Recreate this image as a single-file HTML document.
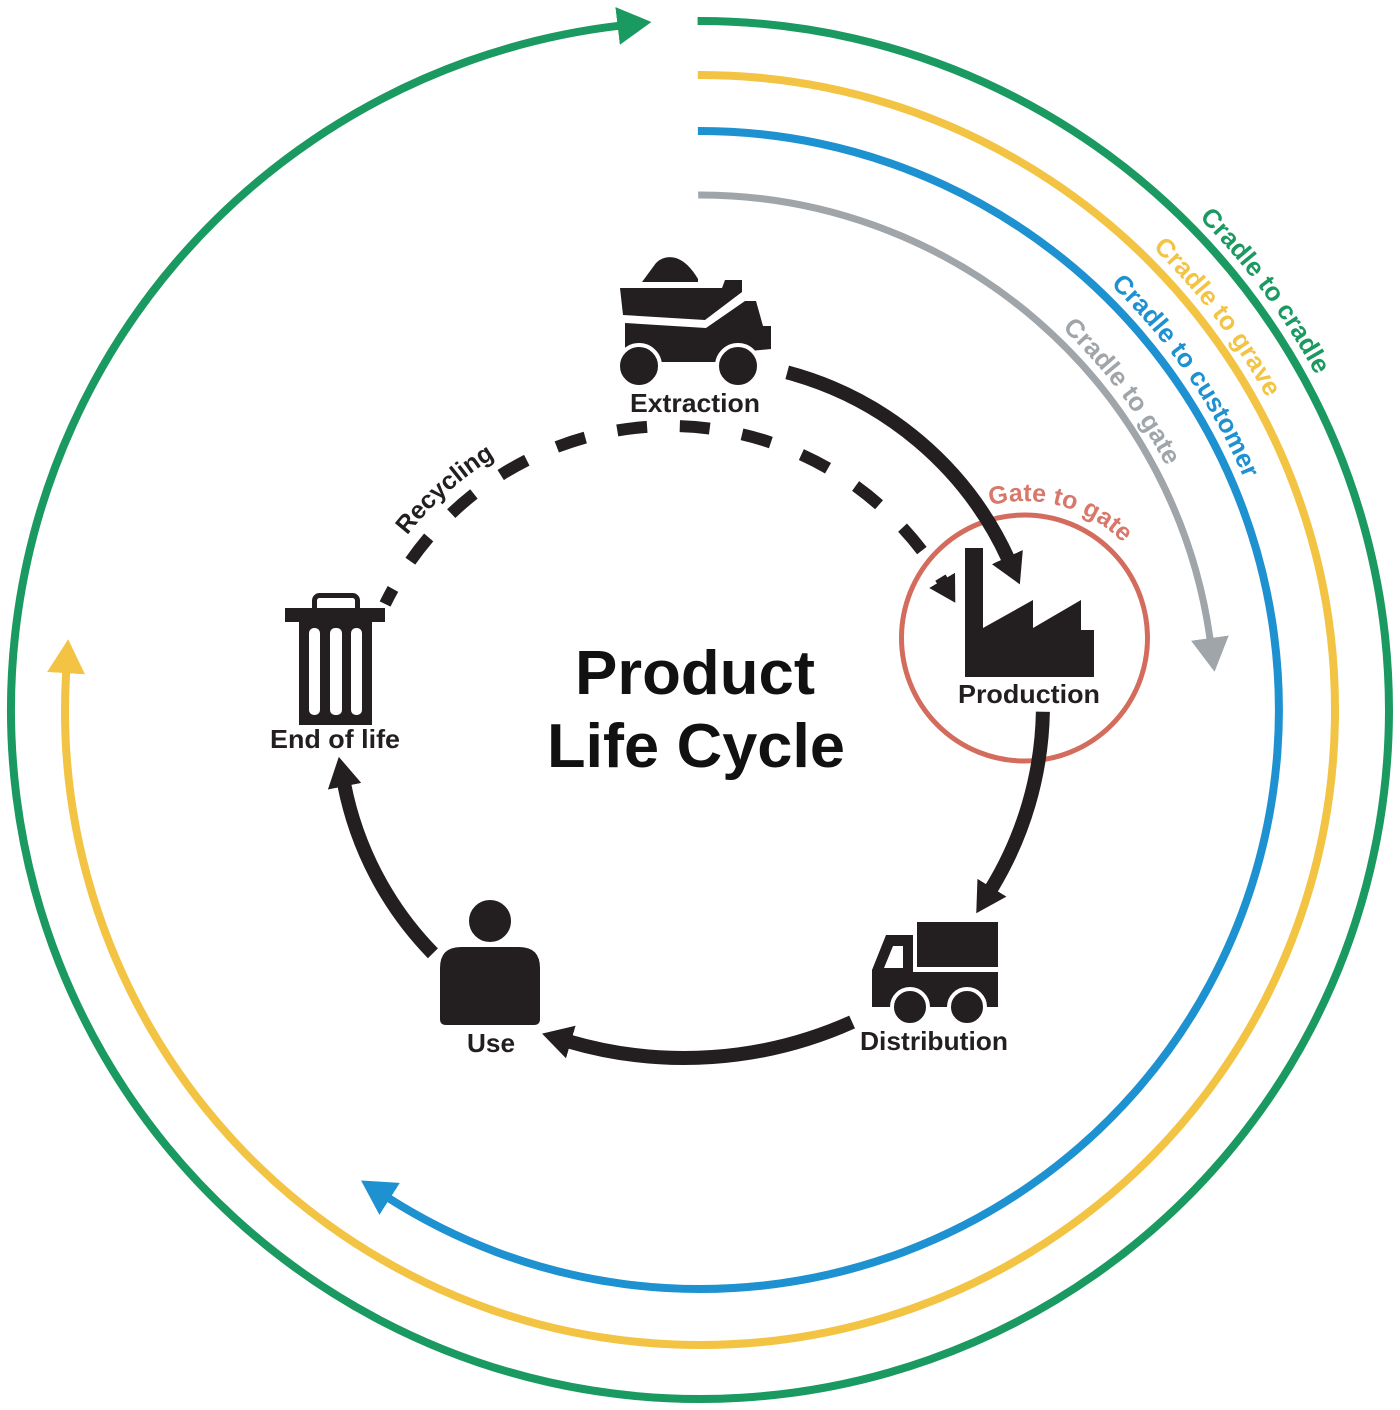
<!DOCTYPE html>
<html>
<head>
<meta charset="utf-8">
<style>
  html, body { margin: 0; padding: 0; background: #ffffff; }
  svg { display: block; }
  text { font-family: "Liberation Sans", Arial, sans-serif; }
</style>
</head>
<body>
<svg width="1400" height="1410" viewBox="0 0 1400 1410" xmlns="http://www.w3.org/2000/svg">
  <defs>
    <marker id="mg" markerUnits="userSpaceOnUse" markerWidth="34" markerHeight="38" viewBox="0 0 34 38" refX="2" refY="19" orient="auto">
      <path d="M0,0 L34,19 L0,38 z" fill="#1a9960" stroke="none"/>
    </marker>
    <marker id="my" markerUnits="userSpaceOnUse" markerWidth="34" markerHeight="38" viewBox="0 0 34 38" refX="2" refY="19" orient="auto">
      <path d="M0,0 L34,19 L0,38 z" fill="#f3c443" stroke="none"/>
    </marker>
    <marker id="mb" markerUnits="userSpaceOnUse" markerWidth="34" markerHeight="38" viewBox="0 0 34 38" refX="2" refY="19" orient="auto">
      <path d="M0,0 L34,19 L0,38 z" fill="#1e91d1" stroke="none"/>
    </marker>
    <marker id="mgr" markerUnits="userSpaceOnUse" markerWidth="34" markerHeight="38" viewBox="0 0 34 38" refX="2" refY="19" orient="auto">
      <path d="M0,0 L34,19 L0,38 z" fill="#a0a5aa" stroke="none"/>
    </marker>
    <marker id="mk" markerUnits="userSpaceOnUse" markerWidth="30" markerHeight="34" viewBox="0 0 30 34" refX="2" refY="17" orient="auto">
      <path d="M0,0 L30,17 L0,34 z" fill="#231f20" stroke="none"/>
    </marker>
    <marker id="mks" markerUnits="userSpaceOnUse" markerWidth="26" markerHeight="30" viewBox="0 0 26 30" refX="2" refY="15" orient="auto">
      <path d="M0,0 L26,15 L0,30 z" fill="#231f20" stroke="none"/>
    </marker>

    <path id="tpg" d="M1199.1,217.8 A701,701 0 0 1 1378.4,533.3" fill="none"/>
    <path id="tpy" d="M1152.7,247.7 A647,647 0 0 1 1325.0,542.5" fill="none"/>
    <path id="tpb" d="M1110.6,284.9 A591,591 0 0 1 1282.0,607.4" fill="none"/>
    <path id="tpgr" d="M1062.1,328.4 A526,526 0 0 1 1208.1,573.9" fill="none"/>
    <path id="tprec" d="M407.1,535.4 A335,335 0 0 1 611.8,413.1" fill="none"/>
    <path id="tpgate" d="M990.2,505.4 A137,137 0 0 1 1143.1,569.5" fill="none"/>
  </defs>

  <rect x="0" y="0" width="1400" height="1410" fill="#ffffff"/>

  <!-- Outer arcs -->
  <path d="M697.6,21 A689,689 0 1 1 619.6,25.7" fill="none" stroke="#1a9960" stroke-width="8" marker-end="url(#mg)"/>
  <path d="M697.8,75 A635,635 0 1 1 66.2,671.2" fill="none" stroke="#f3c443" stroke-width="8" marker-end="url(#my)"/>
  <path d="M697.9,131 A579,579 0 1 1 388.0,1197.8" fill="none" stroke="#1e91d1" stroke-width="8" marker-end="url(#mb)"/>
  <path d="M698.2,195 A515,515 0 0 1 1210.2,640.1" fill="none" stroke="#a0a5aa" stroke-width="7" marker-end="url(#mgr)"/>

  <!-- Outer arc labels -->
  <text font-size="26" font-weight="bold" fill="#1a9960"><textPath href="#tpg">Cradle to cradle</textPath></text>
  <text font-size="26" font-weight="bold" fill="#f3c443"><textPath href="#tpy">Cradle to grave</textPath></text>
  <text font-size="26" font-weight="bold" fill="#1e91d1"><textPath href="#tpb">Cradle to customer</textPath></text>
  <text font-size="26" font-weight="bold" fill="#a0a5aa"><textPath href="#tpgr">Cradle to gate</textPath></text>

  <!-- Gate to gate circle -->
  <circle cx="1024.5" cy="638" r="123" fill="none" stroke="#d36c5c" stroke-width="5"/>
  <text font-size="25" font-weight="bold" fill="#d8786a"><textPath href="#tpgate">Gate to gate</textPath></text>

  <!-- Recycling dashed arrow -->
  <path d="M385.1,604.0 A317,317 0 0 1 943.1,582.1" fill="none" stroke="#231f20" stroke-width="12" stroke-dasharray="30 32.8" stroke-dashoffset="13" marker-end="url(#mks)"/>
  <text font-size="25" font-weight="bold" fill="#231f20"><textPath href="#tprec">Recycling</textPath></text>

  <!-- Black cycle arrows -->
  <path d="M787.2,372.4 A339,339 0 0 1 1008.2,558.9" fill="none" stroke="#231f20" stroke-width="14" marker-end="url(#mk)"/>
  <path d="M1042.9,711.8 A353,353 0 0 1 990.9,889.4" fill="none" stroke="#231f20" stroke-width="14" marker-end="url(#mk)"/>
  <path d="M852.1,1022.0 A410,410 0 0 1 568.9,1041.5" fill="none" stroke="#231f20" stroke-width="14" marker-end="url(#mk)"/>
  <path d="M432.9,953.3 A334,334 0 0 1 344.2,784.3" fill="none" stroke="#231f20" stroke-width="14" marker-end="url(#mk)"/>

  <!-- Extraction: dump truck -->
  <g fill="#231f20">
    <path d="M642,282 L656,263 Q664,255 676,258 Q688,262 698,279 L698,282 Z"/>
    <polygon points="620,288 722,288 725,280 742,280 742,292 705,320 623,315"/>
    <polygon points="625,323 706,328 745,301 756,301 763,326 771,326 771,349 740,352 625,354"/>
    <rect x="655" y="350" width="70" height="12"/>
    <circle cx="639" cy="366" r="21" stroke="#ffffff" stroke-width="4"/>
    <circle cx="738" cy="366" r="21" stroke="#ffffff" stroke-width="4"/>
  </g>
  <text x="695" y="412" font-size="26" font-weight="bold" fill="#231f20" text-anchor="middle" textLength="130" lengthAdjust="spacingAndGlyphs">Extraction</text>

  <!-- Production: factory -->
  <polygon fill="#231f20" points="965,548 983,548 983,628 1033,600 1033,628 1081,600 1081,630 1094,630 1094,677 965,677"/>
  <text x="1029" y="703" font-size="26" font-weight="bold" fill="#231f20" text-anchor="middle" textLength="142" lengthAdjust="spacingAndGlyphs">Production</text>

  <!-- Distribution: delivery truck -->
  <g fill="#231f20">
    <rect x="917" y="922" width="81" height="45"/>
    <polygon points="872,1007 872,970 886,935 913,935 913,972 998,972 998,1007"/>
    <polygon points="884,968 893,946 903,946 903,968" fill="#ffffff"/>
    <circle cx="910" cy="1007" r="18" stroke="#ffffff" stroke-width="4"/>
    <circle cx="967" cy="1007" r="18" stroke="#ffffff" stroke-width="4"/>
  </g>
  <text x="934" y="1050" font-size="26" font-weight="bold" fill="#231f20" text-anchor="middle" textLength="148" lengthAdjust="spacingAndGlyphs">Distribution</text>

  <!-- Use: person -->
  <g fill="#231f20">
    <path d="M440,1019 L440,968 Q440,947 461,947 L519,947 Q540,947 540,968 L540,1019 Q540,1025 534,1025 L446,1025 Q440,1025 440,1019 Z"/>
    <circle cx="490" cy="921" r="23" stroke="#ffffff" stroke-width="4"/>
  </g>
  <text x="491" y="1052" font-size="26" font-weight="bold" fill="#231f20" text-anchor="middle" textLength="48" lengthAdjust="spacingAndGlyphs">Use</text>

  <!-- End of life: trash can -->
  <g fill="#231f20">
    <rect x="314.5" y="595.5" width="43" height="18" rx="5" fill="none" stroke="#231f20" stroke-width="5"/>
    <rect x="285" y="608" width="100" height="14"/>
    <rect x="299" y="622" width="73" height="103"/>
    <rect x="309" y="628" width="11" height="87" rx="5" fill="#ffffff"/>
    <rect x="330" y="628" width="12" height="87" rx="5" fill="#ffffff"/>
    <rect x="351" y="628" width="11" height="87" rx="5" fill="#ffffff"/>
  </g>
  <text x="335" y="748" font-size="26" font-weight="bold" fill="#231f20" text-anchor="middle" textLength="130" lengthAdjust="spacingAndGlyphs">End of life</text>

  <!-- Title -->
  <text x="695" y="694" font-size="62" font-weight="bold" fill="#111111" text-anchor="middle" textLength="240" lengthAdjust="spacingAndGlyphs">Product</text>
  <text x="696" y="767" font-size="62" font-weight="bold" fill="#111111" text-anchor="middle" textLength="298" lengthAdjust="spacingAndGlyphs">Life Cycle</text>
</svg>
</body>
</html>
